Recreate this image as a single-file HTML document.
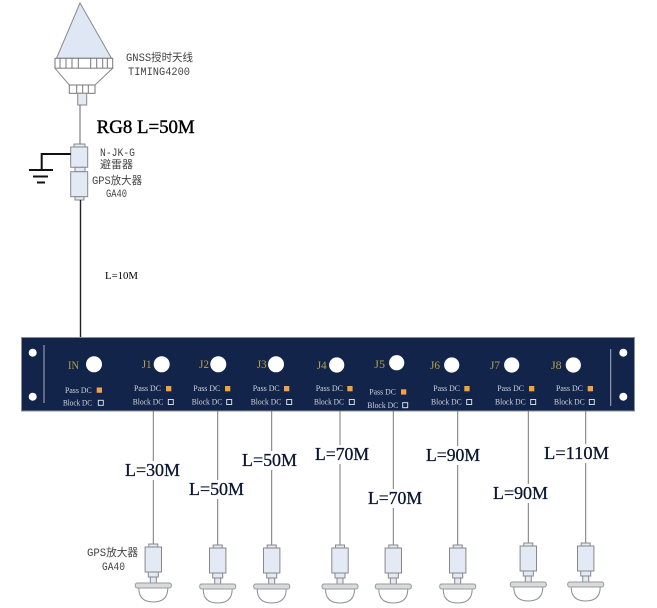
<!DOCTYPE html>
<html><head><meta charset="utf-8"><style>
html,body{margin:0;padding:0;background:#fff;}
svg{display:block;}
.s{font-family:"Liberation Serif","Noto Serif CJK SC",serif;}
.m{font-family:"Liberation Mono","Noto Sans CJK SC",monospace;}
</style></head><body>
<svg width="657" height="608" viewBox="0 0 657 608" xmlns="http://www.w3.org/2000/svg">
<rect width="657" height="608" fill="#fff"/>
<!-- antenna -->
<polygon points="80,3 111.5,58.3 56.5,58.3" fill="#dfe6f4" stroke="#8a8a8a" stroke-width="1"/>
<rect x="55" y="58.3" width="57.7" height="10" fill="#fff" stroke="#777" stroke-width="1"/>
<g stroke="#777" stroke-width="1">
<line x1="60" y1="58.3" x2="60" y2="68.3"/><line x1="66" y1="58.3" x2="66" y2="68.3"/>
<line x1="72" y1="58.3" x2="72" y2="68.3"/><line x1="78.3" y1="58.3" x2="78.3" y2="68.3"/>
<line x1="90.7" y1="58.3" x2="90.7" y2="68.3"/><line x1="96.7" y1="58.3" x2="96.7" y2="68.3"/>
<line x1="102.7" y1="58.3" x2="102.7" y2="68.3"/><line x1="107.3" y1="58.3" x2="107.3" y2="68.3"/>
</g>
<polygon points="55,68.3 112.7,68.3 95,85 69.3,85" fill="#fff" stroke="#888" stroke-width="1"/>
<rect x="69.3" y="85" width="25.7" height="8.3" fill="#fff" stroke="#777" stroke-width="1"/>
<g stroke="#777" stroke-width="1">
<line x1="76.7" y1="85" x2="76.7" y2="93.3"/><line x1="82.7" y1="85" x2="82.7" y2="93.3"/><line x1="88.3" y1="85" x2="88.3" y2="93.3"/>
</g>
<rect x="77.7" y="93.3" width="9" height="11.7" fill="#e3e9f5" stroke="#888" stroke-width="1"/>
<line x1="80" y1="105" x2="80" y2="144" stroke="#666" stroke-width="1"/>
<!-- N-JK-G + amplifier -->
<rect x="74" y="144" width="11" height="3" fill="#e3e9f5" stroke="#888" stroke-width="1"/>
<rect x="70.7" y="147" width="17" height="20.3" fill="#e3e9f5" stroke="#888" stroke-width="1"/>
<rect x="75" y="167.3" width="10" height="4.4" fill="#e3e9f5" stroke="#888" stroke-width="1"/>
<rect x="70.7" y="171.7" width="17" height="25" fill="#e3e9f5" stroke="#888" stroke-width="1"/>
<rect x="75" y="196.7" width="9" height="3.3" fill="#e3e9f5" stroke="#888" stroke-width="1"/>
<line x1="80.5" y1="200" x2="80.5" y2="338" stroke="#222" stroke-width="1.4"/>
<!-- ground -->
<path d="M70.7 154 H41.7 V169" fill="none" stroke="#111" stroke-width="2"/>
<line x1="29" y1="170" x2="53" y2="170" stroke="#111" stroke-width="2"/>
<line x1="33" y1="176.5" x2="48" y2="176.5" stroke="#111" stroke-width="2"/>
<line x1="37" y1="182.5" x2="45" y2="182.5" stroke="#111" stroke-width="2"/>
<!-- top labels -->
<g class="m" font-size="11" fill="#444">
<text x="126" y="61" textLength="67" lengthAdjust="spacingAndGlyphs">GNSS授时天线</text>
<text x="128" y="75" textLength="62" lengthAdjust="spacingAndGlyphs">TIMING4200</text>
<text x="100" y="156" textLength="35" lengthAdjust="spacingAndGlyphs">N-JK-G</text>
<text x="100" y="168" textLength="33" lengthAdjust="spacingAndGlyphs">避雷器</text>
<text x="92" y="184" textLength="50" lengthAdjust="spacingAndGlyphs">GPS放大器</text>
<text x="106" y="197" textLength="21" lengthAdjust="spacingAndGlyphs">GA40</text>
<text x="87" y="556" textLength="51" lengthAdjust="spacingAndGlyphs">GPS放大器</text>
<text x="102" y="570" textLength="23" lengthAdjust="spacingAndGlyphs">GA40</text>
</g>
<text class="s" x="96.7" y="133" font-size="18.5" fill="#000" stroke="#000" stroke-width="0.4" textLength="98" lengthAdjust="spacingAndGlyphs">RG8 L=50M</text>
<text class="s" x="105" y="279" font-size="11" fill="#000" textLength="33" lengthAdjust="spacingAndGlyphs">L=10M</text>
<!-- panel -->
<rect x="21.5" y="337.5" width="613" height="73.5" fill="#122449" stroke="#8a8f99" stroke-width="1"/>
<g fill="#fff">
<circle cx="32.7" cy="352.7" r="4"/><circle cx="32.7" cy="396.7" r="4"/>
<circle cx="623.3" cy="352.7" r="4"/><circle cx="623.3" cy="396.7" r="4"/>
</g>
<line x1="44" y1="345" x2="44" y2="403" stroke="#aab0c0" stroke-width="1"/>
<line x1="610.7" y1="349" x2="610.7" y2="406" stroke="#aab0c0" stroke-width="1"/>
<g fill="#fff">
<circle cx="94" cy="364.3" r="8"/><circle cx="161.7" cy="364.3" r="8"/>
<circle cx="218.3" cy="364.3" r="8"/><circle cx="276" cy="364.3" r="8"/>
<circle cx="336.7" cy="365" r="7.6"/><circle cx="396.7" cy="362.7" r="7.6"/>
<circle cx="451.7" cy="365" r="7.6"/><circle cx="511.7" cy="365" r="7.6"/>
<circle cx="573.3" cy="365" r="7.6"/>
</g>
<g class="s" font-size="11.5" fill="#b5a050">
<text x="68" y="369" textLength="11" lengthAdjust="spacingAndGlyphs">IN</text>
<text x="141.7" y="368" textLength="10" lengthAdjust="spacingAndGlyphs">J1</text>
<text x="199" y="368" textLength="10" lengthAdjust="spacingAndGlyphs">J2</text>
<text x="256.7" y="368" textLength="10" lengthAdjust="spacingAndGlyphs">J3</text>
<text x="316.7" y="369" textLength="10" lengthAdjust="spacingAndGlyphs">J4</text>
<text x="374.3" y="368" textLength="10.7" lengthAdjust="spacingAndGlyphs">J5</text>
<text x="430" y="369" textLength="10" lengthAdjust="spacingAndGlyphs">J6</text>
<text x="490" y="369" textLength="10" lengthAdjust="spacingAndGlyphs">J7</text>
<text x="551" y="369" textLength="10.7" lengthAdjust="spacingAndGlyphs">J8</text>
</g>
<g class="s" font-size="8.3" fill="#d0d4dc">
<text x="65" y="393" textLength="26.7" lengthAdjust="spacingAndGlyphs">Pass DC</text>
<text x="63" y="405.5" textLength="29" lengthAdjust="spacingAndGlyphs">Block DC</text>
<text x="134" y="391" textLength="27" lengthAdjust="spacingAndGlyphs">Pass DC</text>
<text x="132.7" y="404.5" textLength="30.6" lengthAdjust="spacingAndGlyphs">Block DC</text>
<text x="193.3" y="391" textLength="27" lengthAdjust="spacingAndGlyphs">Pass DC</text>
<text x="191.7" y="404.5" textLength="30.6" lengthAdjust="spacingAndGlyphs">Block DC</text>
<text x="252.7" y="391" textLength="27" lengthAdjust="spacingAndGlyphs">Pass DC</text>
<text x="250.7" y="404.5" textLength="30.6" lengthAdjust="spacingAndGlyphs">Block DC</text>
<text x="315.7" y="391" textLength="27.3" lengthAdjust="spacingAndGlyphs">Pass DC</text>
<text x="314" y="404.5" textLength="30" lengthAdjust="spacingAndGlyphs">Block DC</text>
<text x="369.3" y="394.5" textLength="26.7" lengthAdjust="spacingAndGlyphs">Pass DC</text>
<text x="367.3" y="408" textLength="31" lengthAdjust="spacingAndGlyphs">Block DC</text>
<text x="433.3" y="391" textLength="26.7" lengthAdjust="spacingAndGlyphs">Pass DC</text>
<text x="431" y="404.5" textLength="30.7" lengthAdjust="spacingAndGlyphs">Block DC</text>
<text x="497.3" y="391" textLength="26.7" lengthAdjust="spacingAndGlyphs">Pass DC</text>
<text x="495" y="404.5" textLength="30.7" lengthAdjust="spacingAndGlyphs">Block DC</text>
<text x="556" y="391" textLength="27" lengthAdjust="spacingAndGlyphs">Pass DC</text>
<text x="554" y="404.5" textLength="30.7" lengthAdjust="spacingAndGlyphs">Block DC</text>
</g>
<g fill="#f0a050">
<rect x="96.7" y="387.5" width="5.3" height="5.3"/>
<rect x="166" y="386" width="5.3" height="5.3"/>
<rect x="225" y="386" width="5.3" height="5.3"/>
<rect x="284" y="386" width="5.3" height="5.3"/>
<rect x="347.3" y="386" width="5.3" height="5.3"/>
<rect x="401" y="389.3" width="5.3" height="5.3"/>
<rect x="464.3" y="386" width="5.3" height="5.3"/>
<rect x="529" y="386" width="5.3" height="5.3"/>
<rect x="587.7" y="386" width="5.3" height="5.3"/>
</g>
<g fill="none" stroke="#e8eaf0" stroke-width="0.9">
<rect x="98.3" y="400.3" width="5" height="5"/>
<rect x="168.3" y="399.5" width="5" height="5"/>
<rect x="226.7" y="399.5" width="5" height="5"/>
<rect x="286.7" y="399.5" width="5" height="5"/>
<rect x="349.3" y="399.5" width="5" height="5"/>
<rect x="402.7" y="402.7" width="5" height="5"/>
<rect x="466.7" y="399.5" width="5" height="5"/>
<rect x="530.7" y="399.5" width="5" height="5"/>
<rect x="589.3" y="399.5" width="5" height="5"/>
</g>
<!-- drop lines -->
<g stroke="#777" stroke-width="1">
<line x1="153.3" y1="411" x2="153.3" y2="544"/>
<line x1="217.7" y1="411" x2="217.7" y2="545"/>
<line x1="271.7" y1="411" x2="271.7" y2="545"/>
<line x1="340" y1="411" x2="340" y2="545"/>
<line x1="393.3" y1="411" x2="393.3" y2="545"/>
<line x1="457.7" y1="411" x2="457.7" y2="545"/>
<line x1="528.3" y1="411" x2="528.3" y2="543"/>
<line x1="585.7" y1="411" x2="585.7" y2="543"/>
</g>
<!-- length labels -->
<g fill="#fff">
<rect x="124" y="461" width="57" height="19"/>
<rect x="188" y="480" width="57" height="19"/>
<rect x="241" y="451" width="57" height="19"/>
<rect x="314" y="445" width="56" height="19"/>
<rect x="367" y="489" width="56" height="19"/>
<rect x="425" y="446" width="56" height="19"/>
<rect x="492" y="484" width="57" height="19"/>
<rect x="543" y="444" width="67" height="19"/>
</g>
<g class="s" font-size="18" fill="#0a1530" stroke="#0a1530" stroke-width="0.3">
<text x="125" y="476" textLength="55" lengthAdjust="spacingAndGlyphs">L=30M</text>
<text x="189" y="495" textLength="55" lengthAdjust="spacingAndGlyphs">L=50M</text>
<text x="242" y="466" textLength="55" lengthAdjust="spacingAndGlyphs">L=50M</text>
<text x="315" y="460" textLength="54" lengthAdjust="spacingAndGlyphs">L=70M</text>
<text x="368" y="504" textLength="54" lengthAdjust="spacingAndGlyphs">L=70M</text>
<text x="426" y="461" textLength="54" lengthAdjust="spacingAndGlyphs">L=90M</text>
<text x="493" y="499" textLength="55" lengthAdjust="spacingAndGlyphs">L=90M</text>
<text x="544" y="459" textLength="65" lengthAdjust="spacingAndGlyphs">L=110M</text>
</g>
<!-- devices -->
<defs>
<g id="dev">
<rect x="-4.5" y="0" width="9" height="3" fill="#e3e9f5" stroke="#888" stroke-width="1"/>
<rect x="-8.2" y="3" width="16.4" height="25" fill="#e3e9f5" stroke="#888" stroke-width="1"/>
<rect x="-5" y="28" width="10" height="5" fill="#e3e9f5" stroke="#888" stroke-width="1"/>
<rect x="-3" y="33" width="6" height="6" fill="#e3e9f5" stroke="#888" stroke-width="1"/>
<path d="M-14.5 44 Q-14.5 58 0 58 Q14.5 58 14.5 44 Z" fill="#fff" stroke="#8a8f9a" stroke-width="1"/>
<rect x="-18" y="39" width="36" height="5" rx="2" fill="#d9dadd" stroke="#999" stroke-width="1"/>
</g>
</defs>
<use href="#dev" x="153.3" y="544"/>
<use href="#dev" x="217.7" y="545"/>
<use href="#dev" x="271.7" y="545"/>
<use href="#dev" x="340" y="545"/>
<use href="#dev" x="393.3" y="545"/>
<use href="#dev" x="457.7" y="545"/>
<use href="#dev" x="528.3" y="543"/>
<use href="#dev" x="585.7" y="543"/>
</svg>
</body></html>
